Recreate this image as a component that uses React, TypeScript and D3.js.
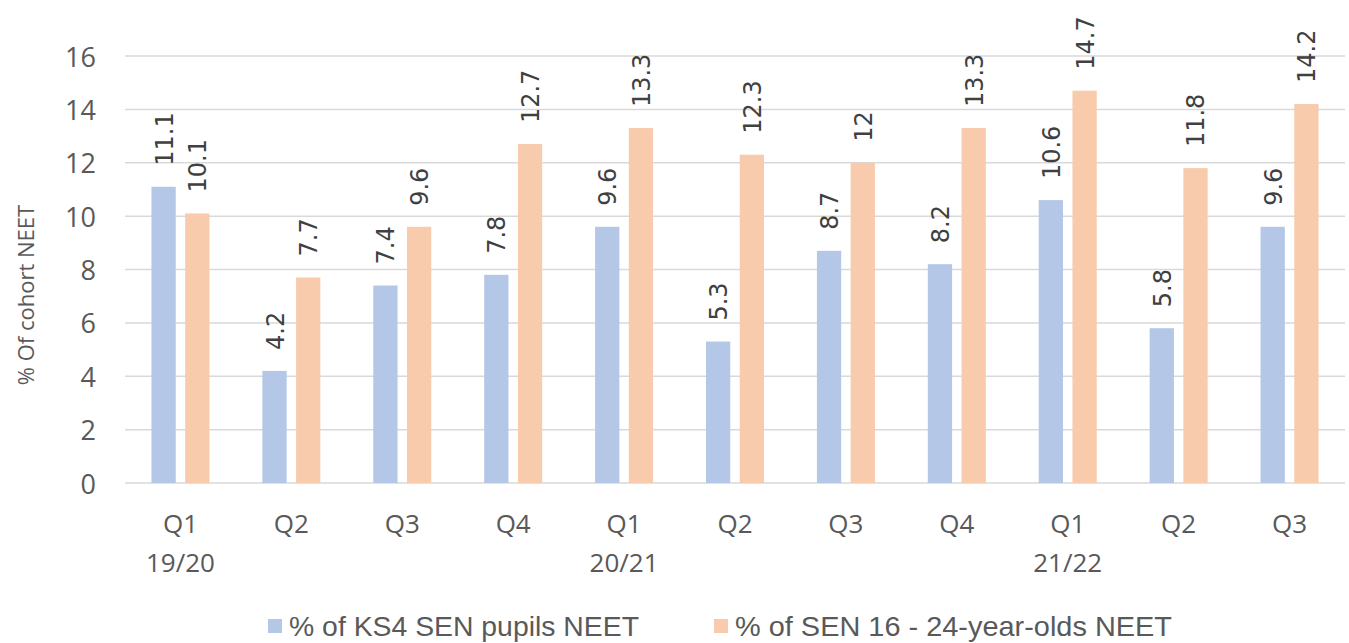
import { useEffect, useRef } from 'react';
import * as d3 from 'd3';

const QUARTERS = ['Q1', 'Q2', 'Q3', 'Q4', 'Q1', 'Q2', 'Q3', 'Q4', 'Q1', 'Q2', 'Q3'];
const YEARS = ['19/20', '', '', '', '20/21', '', '', '', '21/22', '', ''];
const KS4_SEN = [11.1, 4.2, 7.4, 7.8, 9.6, 5.3, 8.7, 8.2, 10.6, 5.8, 9.6];
const SEN_16_24 = [10.1, 7.7, 9.6, 12.7, 13.3, 12.3, 12, 13.3, 14.7, 11.8, 14.2];
const Y_TICKS = [0, 2, 4, 6, 8, 10, 12, 14, 16];
const SERIES_NAMES = ['% of KS4 SEN pupils NEET', '% of SEN 16 - 24-year-olds NEET'];

const COLORS = ['#B4C7E7', '#F8CBAD'];

export default function App() {
  const svgRef = useRef<SVGSVGElement>(null);

  useEffect(() => {
    if (!svgRef.current) return;
    const width = 1349;
    const height = 643;
    const left = 125;
    const right = 1345;
    const top = 56;
    const bottom = 483;

    const svg = d3.select(svgRef.current);
    svg.selectAll('*').remove();

    const idx = QUARTERS.map((_, i) => i);
    const x = d3.scaleBand<number>().domain(idx).range([left, right]).paddingInner(0).paddingOuter(0);
    const y = d3.scaleLinear().domain([0, 16]).range([bottom, top]);
    const inner = d3.scaleBand<number>().domain([0, 1]).range([0, 58]).paddingInner(0.28);

    // gridlines
    svg.append('g')
      .selectAll('line')
      .data(Y_TICKS)
      .join('line')
      .attr('x1', left).attr('x2', right)
      .attr('y1', (d) => y(d)).attr('y2', (d) => y(d))
      .attr('stroke', '#d9d9d9')
      .attr('stroke-width', 1.5);

    // y tick labels
    svg.append('g')
      .selectAll('text')
      .data(Y_TICKS)
      .join('text')
      .attr('x', 96)
      .attr('y', (d) => y(d))
      .attr('text-anchor', 'end')
      .attr('dominant-baseline', 'central')
      .attr('font-family', '"Open Sans", sans-serif')
      .attr('font-size', 27)
      .attr('fill', '#595959')
      .text((d) => d);

    // y title
    svg.append('text')
      .attr('transform', `translate(25, 295) rotate(-90)`)
      .attr('text-anchor', 'middle')
      .attr('dominant-baseline', 'central')
      .attr('font-family', '"Open Sans", sans-serif')
      .attr('font-size', 22)
      .attr('fill', '#595959')
      .text('% Of cohort NEET');

    const series = [KS4_SEN, SEN_16_24];
    series.forEach((vals, s) => {
      const g = svg.append('g');
      vals.forEach((v, i) => {
        const cx0 = x(i)! + x.bandwidth() / 2 - 29;
        const bx = cx0 + inner(s)!;
        g.append('rect')
          .attr('x', bx)
          .attr('y', y(v))
          .attr('width', inner.bandwidth())
          .attr('height', y(0) - y(v))
          .attr('fill', COLORS[s]);
        g.append('text')
          .attr('transform', `translate(${bx + inner.bandwidth() / 2 + 1}, ${y(v) - 21}) rotate(-90)`)
          .attr('text-anchor', 'start')
          .attr('dominant-baseline', 'central')
          .attr('font-family', '"DejaVu Sans", sans-serif')
          .attr('font-size', 24)
          .attr('fill', '#404040')
          .text(v);
      });
    });

    // category labels
    const cat = svg.append('g')
      .attr('font-family', '"Open Sans", sans-serif')
      .attr('font-size', 26)
      .attr('fill', '#595959')
      .attr('text-anchor', 'middle');
    QUARTERS.forEach((q, i) => {
      const cx = x(i)! + x.bandwidth() / 2;
      cat.append('text').attr('x', cx).attr('y', 533).text(q);
      if (YEARS[i]) cat.append('text').attr('x', cx).attr('y', 572).text(YEARS[i]);
    });

    // legend
    const legendX = [268, 714];
    SERIES_NAMES.forEach((name, s) => {
      svg.append('rect')
        .attr('x', legendX[s])
        .attr('y', 619)
        .attr('width', 14)
        .attr('height', 14)
        .attr('fill', COLORS[s]);
      svg.append('text')
        .attr('x', legendX[s] + 21)
        .attr('y', 636)
        .attr('font-family', '"Liberation Sans", sans-serif')
        .attr('font-size', 28)
        .attr('textLength', s === 0 ? 350 : 437)
        .attr('lengthAdjust', 'spacingAndGlyphs')
        .attr('fill', '#595959')
        .text(name);
    });

    svg.attr('width', width).attr('height', height);
  }, []);

  return (
    <svg
      ref={svgRef}
      width={1349}
      height={643}
      style={{ position: 'absolute', left: 0, top: 0, background: '#fff' }}
    />
  );
}
